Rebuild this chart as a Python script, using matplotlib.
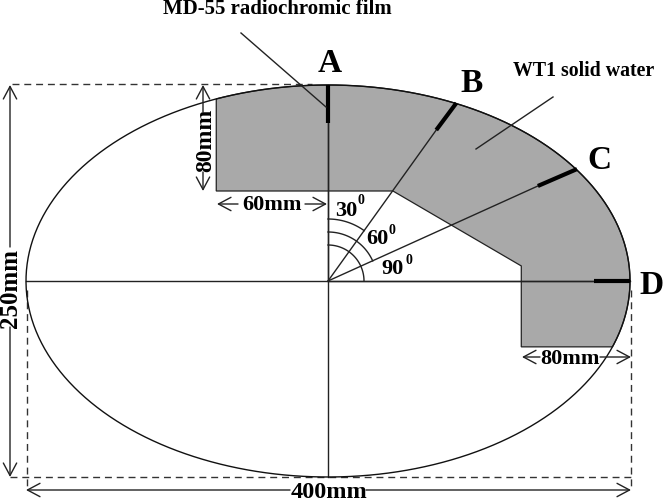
import numpy as np
import matplotlib
matplotlib.use("Agg")
import matplotlib.pyplot as plt

# phantom size (mm)
phantom_w = 400
phantom_h = 250

# film positions: label, outer end and inner end (mm from centre)
film_labels = ["A", "B", "C", "D"]
film_outer = [(0, 125), (85, 113.5), (164.9, 71.4), (200, 0)]
film_inner = [(0, 101), (71.7, 96.3), (139, 60.6), (176.2, 0)]

# inner outline of the solid water block (mm)
block_inner = [(128, -42), (128, 9.6), (43, 57.4), (-74, 57.4)]
block_left = -74
block_bottom = -42

# arc radii (px) and end angles
arc_radii = [62, 49, 36]
arc_ends = [54.3, 24.2, 0]
angle_labels = ["30", "60", "90"]

sx = 1.51
sy = 1.568
cx, cy = 328, 281
GRAY = "#a9a9a9"
LW = 1.0


def px(x, y):
    return (x - cx) / sx, (cy - y) / sy


fig = plt.figure(figsize=(6.64, 5.01), dpi=100)
ax = fig.add_axes([0, 0, 1, 1])
ax.set_xlim(px(0, 0)[0], px(664, 0)[0])
ax.set_ylim(px(0, 501)[1], px(0, 0)[1])
ax.axis("off")

plt.rcParams["font.family"] = "Liberation Serif"
plt.rcParams["font.weight"] = "bold"

a = phantom_w / 2
b = phantom_h / 2

# gray block
t0 = np.arccos(block_left / a)
t1 = -np.arcsin(-block_bottom / b)
t = np.linspace(t0, t1, 200)
xs = list(a * np.cos(t)) + [p[0] for p in block_inner]
ys = list(b * np.sin(t)) + [p[1] for p in block_inner]
ax.fill(xs, ys, facecolor=GRAY, edgecolor="#222222", lw=0.9, zorder=1)

# ellipse
t = np.linspace(0, 2 * np.pi, 400)
ax.plot(a * np.cos(t), b * np.sin(t), color="#111111", lw=LW, zorder=3)

# axes through the centre
ax.plot([-a, a], [0, 0], color="#222222", lw=LW, zorder=2)
ax.plot([0, 0], [-b, b], color="#222222", lw=LW, zorder=2)

# radial lines and films
for (xo, yo), (xi, yi) in zip(film_outer, film_inner):
    ax.plot([0, xi], [0, yi], color="#222222", lw=LW, zorder=2)
    ax.plot([xi, xo], [yi, yo], color="black", lw=3.0, solid_capstyle="butt", zorder=4)

for (x, y), lab in zip([(330, 64), (472, 84), (599, 161), (652, 285)], film_labels):
    ax.text(*px(x, y), lab, fontsize=24, ha="center", va="center", fontweight="bold")

# angle arcs
for r, end in zip(arc_radii, arc_ends):
    th = np.radians(np.linspace(90, end, 60))
    ax.plot(r * np.cos(th) / sx, r * np.sin(th) / sy, color="#222222", lw=LW, zorder=2)

for lab, (x, y), (sx0, sy0) in zip(angle_labels,
                                   [(346, 211), (377, 239), (393, 269)],
                                   [(361, 201), (392, 231), (409, 261)]):
    ax.text(*px(x, y), lab, fontsize=16, ha="center", va="center", fontweight="bold")
    ax.text(*px(sx0, sy0), "0", fontsize=10, ha="center", va="center", fontweight="bold")

# dashed box
dash = dict(color="#333333", lw=LW, ls=(0, (5, 3.5)), zorder=2)
ax.plot(*zip(px(12, 84), px(312, 84)), **dash)
ax.plot(*zip(px(10, 477), px(631, 477)), **dash)
ax.plot(*zip(px(26.5, 290), px(26.5, 486)), **dash)
ax.plot(*zip(px(631, 290), px(631, 488)), **dash)

# dimension arrows, each one broken around its label
arrow = dict(arrowstyle="->,head_length=0.75,head_width=0.4", mutation_scale=12,
             lw=LW, color="#222222", shrinkA=0, shrinkB=0)
for p0, p1 in [((10, 247), (10, 85)), ((10, 327), (10, 477)),
               ((290, 490), (26, 490)), ((366, 490), (631, 490)),
               ((203, 112), (203, 85)), ((203, 172), (203, 191)),
               ((238, 204), (217, 204)), ((305, 204), (327, 204)),
               ((540, 357), (522, 357)), ((600, 357), (631, 357))]:
    ax.annotate("", xy=px(*p1), xytext=px(*p0), arrowprops=arrow, zorder=3)

ax.text(*px(10, 288), "250mm", fontsize=18, rotation=90, ha="center", va="center",
        fontweight="bold", zorder=5)
ax.text(*px(329, 492), "400mm", fontsize=17.5, ha="center", va="center",
        fontweight="bold", zorder=5)
ax.text(*px(206, 140), "80mm", fontsize=17, rotation=90, ha="center", va="center",
        fontweight="bold", zorder=5)
ax.text(*px(272, 205), "60mm", fontsize=16, ha="center", va="center",
        fontweight="bold", zorder=5)
ax.text(*px(570, 359), "80mm", fontsize=16, ha="center", va="center",
        fontweight="bold", zorder=5)

# callouts
ax.plot(*zip(px(241, 33), px(326, 107)), color="#222222", lw=LW, zorder=5)
ax.plot(*zip(px(476, 149), px(553, 97)), color="#222222", lw=LW, zorder=5)
ax.text(*px(277, 9), "MD-55 radiochromic film", fontsize=15, ha="center", va="center", fontweight="bold")
ax.text(*px(584, 71), "WT1 solid water", fontsize=14.3, ha="center", va="center", fontweight="bold")

fig.savefig("out.png", dpi=100)
